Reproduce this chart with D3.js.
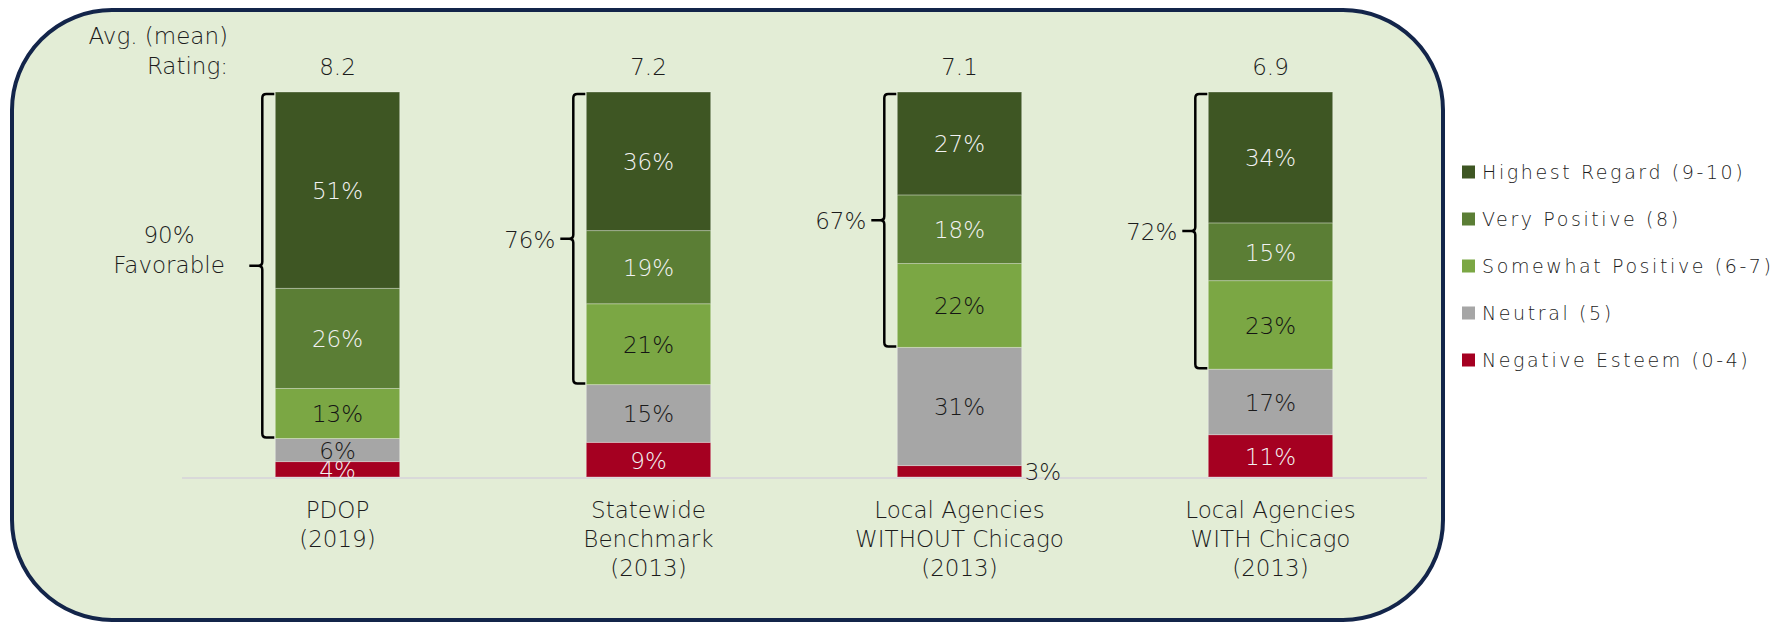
<!DOCTYPE html>
<html>
<head>
<meta charset="utf-8">
<script src="https://cdn.jsdelivr.net/npm/d3@7"></script>
<style>
  html, body { margin: 0; padding: 0; background: #ffffff; }
  text { font-family: "DejaVu Sans", "Open Sans", sans-serif; font-weight: 300; }
</style>
</head>
<body>
<div id="chart"></div>
<script>
// Chart data
var categories = ["PDOP", "Statewide", "LocalWithout", "LocalWith"];
var categoryLines = [
    ["PDOP", "(2019)"],
    ["Statewide", "Benchmark", "(2013)"],
    ["Local Agencies", "WITHOUT Chicago", "(2013)"],
    ["Local Agencies", "WITH Chicago", "(2013)"]
];
var highestRegard = [51, 36, 27, 34];
var veryPositive = [26, 19, 18, 15];
var somewhatPositive = [13, 21, 22, 23];
var neutral = [6, 15, 31, 17];
var negativeEsteem = [4, 9, 3, 11];
var avgRatings = ["8.2", "7.2", "7.1", "6.9"];
var favorableTotals = [90, 76, 67, 72];

var seriesKeys = ["negative", "neutral", "somewhat", "very", "highest"];
var seriesNames = {
    highest: "Highest Regard (9-10)",
    very: "Very Positive (8)",
    somewhat: "Somewhat Positive (6-7)",
    neutral: "Neutral (5)",
    negative: "Negative Esteem (0-4)"
};
var seriesColors = {
    highest: "#3E5623",
    very: "#5B7E35",
    somewhat: "#7BA744",
    neutral: "#A6A6A6",
    negative: "#A50021"
};
var labelColors = {
    highest: "#f2f2f2",
    very: "#f2f2f2",
    somewhat: "#141414",
    neutral: "#1a1a1a",
    negative: "#f2f2f2"
};
var legendOrder = ["highest", "very", "somewhat", "neutral", "negative"];
var textColor = "#1c1c1c";

// build rows for the stack layout
var rows = categories.map(function(c, i) {
    return {
        cat: c,
        highest: highestRegard[i],
        very: veryPositive[i],
        somewhat: somewhatPositive[i],
        neutral: neutral[i],
        negative: negativeEsteem[i]
    };
});

// Dimensions
var W = 1791, H = 624;
var svg = d3.select("#chart").append("svg")
    .attr("width", W)
    .attr("height", H);

// rounded background panel
svg.append("rect")
    .attr("x", 12).attr("y", 10)
    .attr("width", 1431).attr("height", 610)
    .attr("rx", 100).attr("ry", 100)
    .attr("fill", "#E3EDD6")
    .attr("stroke", "#13254A")
    .attr("stroke-width", 4);

var x = d3.scaleBand()
    .domain(categories)
    .range([182, 1426])
    .paddingInner(0.6)
    .paddingOuter(0.3);

var y = d3.scaleLinear()
    .domain([0, 1])
    .range([477, 92]);

var stacked = d3.stack()
    .keys(seriesKeys)
    .offset(d3.stackOffsetExpand)(rows);

// baseline
svg.append("line")
    .attr("x1", x.range()[0]).attr("x2", x.range()[1] + 1)
    .attr("y1", y(0) + 1).attr("y2", y(0) + 1)
    .attr("stroke", "#D9D9D9")
    .attr("stroke-width", 2);

// bars
var layers = svg.selectAll("g.layer")
    .data(stacked)
    .enter().append("g")
    .attr("class", "layer")
    .attr("fill", function(d) { return seriesColors[d.key]; });

layers.selectAll("rect")
    .data(function(d) { return d; })
    .enter().append("rect")
    .attr("x", function(d) { return x(d.data.cat); })
    .attr("width", x.bandwidth())
    .attr("y", function(d) { return y(d[1]); })
    .attr("height", function(d) { return y(d[0]) - y(d[1]); })
    .attr("stroke", "rgba(255,255,255,0.3)")
    .attr("stroke-width", 1);

// value labels
stacked.forEach(function(layer) {
    layer.forEach(function(d) {
        var h = y(d[0]) - y(d[1]);
        var cy = (y(d[0]) + y(d[1])) / 2;
        var v = d.data[layer.key];
        var inside = h >= 13;
        svg.append("text")
            .attr("x", inside ? x(d.data.cat) + x.bandwidth() / 2 : x(d.data.cat) + x.bandwidth() + 3)
            .attr("y", cy + 1)
            .attr("dominant-baseline", "central")
            .attr("text-anchor", inside ? "middle" : "start")
            .attr("font-size", "23px")
            .attr("fill", inside ? labelColors[layer.key] : textColor)
            .text(v + "%");
    });
});

// average rating row
svg.append("text")
    .attr("x", 228).attr("y", 44)
    .attr("text-anchor", "end")
    .attr("font-size", "23px")
    .attr("fill", textColor)
    .text("Avg. (mean)");
svg.append("text")
    .attr("x", 228).attr("y", 74)
    .attr("text-anchor", "end")
    .attr("font-size", "23px")
    .attr("fill", textColor)
    .text("Rating:");

svg.selectAll("text.rating")
    .data(avgRatings)
    .enter().append("text")
    .attr("class", "rating")
    .attr("x", function(d, i) { return x(categories[i]) + x.bandwidth() / 2; })
    .attr("y", 75)
    .attr("text-anchor", "middle")
    .attr("font-size", "23px")
    .attr("fill", textColor)
    .text(function(d) { return d; });

// favorable brackets
categories.forEach(function(c, i) {
    var x0 = x(c);
    var xv = x0 - 13;
    var xt = x0 - 26;
    // favorable block = top three layers, its base is the bottom of "somewhat"
    var favBase = stacked[2][i][0];
    var yTop = y(1) + 2;
    var yBot = y(favBase) - 1;
    var yMid = (yTop + yBot) / 2;
    var r = 4;
    var p = d3.path();
    p.moveTo(x0 - 1, yTop);
    p.lineTo(xv + r, yTop);
    p.quadraticCurveTo(xv, yTop, xv, yTop + r);
    p.lineTo(xv, yMid - r);
    p.quadraticCurveTo(xv, yMid, xv - r, yMid);
    p.lineTo(xt, yMid);
    p.moveTo(xv - r, yMid);
    p.quadraticCurveTo(xv, yMid, xv, yMid + r);
    p.lineTo(xv, yBot - r);
    p.quadraticCurveTo(xv, yBot, xv + r, yBot);
    p.lineTo(x0 - 1, yBot);
    svg.append("path")
        .attr("d", p.toString())
        .attr("fill", "none")
        .attr("stroke", "#000")
        .attr("stroke-width", 2.5);

    if (i === 0) {
        var t = svg.append("text")
            .attr("text-anchor", "middle")
            .attr("font-size", "23px")
            .attr("fill", textColor);
        t.append("tspan").attr("x", 169).attr("y", yMid - 23).text(favorableTotals[i] + "%");
        t.append("tspan").attr("x", 169).attr("y", yMid + 7).text("Favorable");
    } else {
        svg.append("text")
            .attr("x", xt - 5)
            .attr("y", yMid + 1)
            .attr("dominant-baseline", "central")
            .attr("text-anchor", "end")
            .attr("font-size", "23px")
            .attr("fill", textColor)
            .text(favorableTotals[i] + "%");
    }
});

// category labels
categories.forEach(function(c, i) {
    var t = svg.append("text")
        .attr("text-anchor", "middle")
        .attr("font-size", "23px")
        .attr("fill", textColor);
    categoryLines[i].forEach(function(line, j) {
        t.append("tspan")
            .attr("x", x(c) + x.bandwidth() / 2)
            .attr("y", 518 + j * 29)
            .text(line);
    });
});

// legend
var legend = svg.selectAll("g.legend")
    .data(legendOrder)
    .enter().append("g")
    .attr("class", "legend")
    .attr("transform", function(d, i) { return "translate(1462," + (172 + i * 47) + ")"; });

legend.append("rect")
    .attr("x", 0).attr("y", -6.5)
    .attr("width", 13).attr("height", 13)
    .attr("fill", function(d) { return seriesColors[d]; });

legend.append("text")
    .attr("x", 20)
    .attr("y", 7)
    .attr("font-size", "19px")
    .attr("letter-spacing", "2.6px")
    .attr("fill", textColor)
    .text(function(d) { return seriesNames[d]; });
</script>
</body>
</html>
